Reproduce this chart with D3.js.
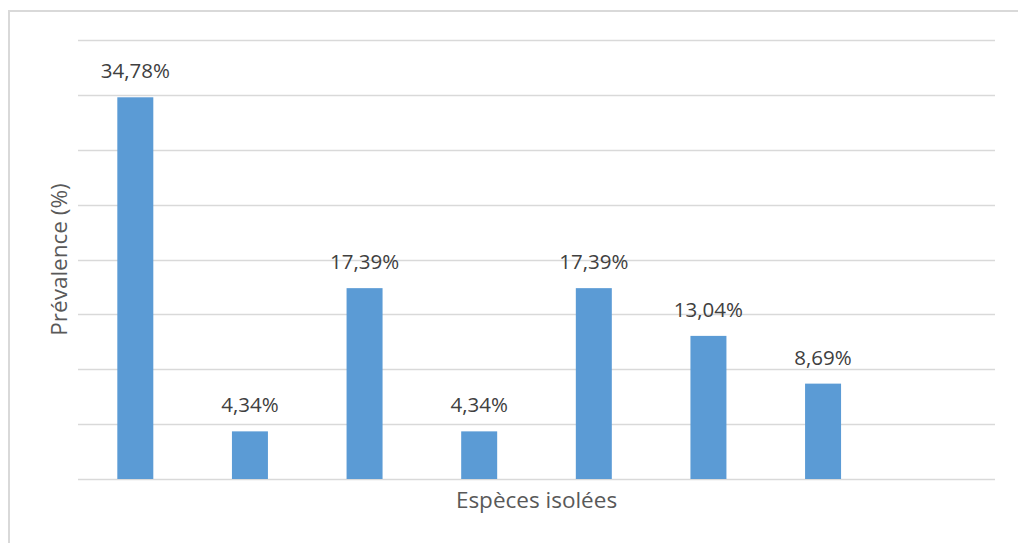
<!DOCTYPE html>
<html>
<head>
<meta charset="utf-8">
<script src="https://cdn.jsdelivr.net/npm/d3@7"></script>
<style>
  html, body { margin: 0; padding: 0; background: #ffffff; }
  svg { display: block; }
</style>
</head>
<body>
<svg id="chart" width="1018" height="543"></svg>
<script>
// Prevalence of isolated species (%); the eighth slot is left empty
const categories = ["A", "B", "C", "D", "E", "F", "G", "H"];
const values = [34.78, 4.34, 17.39, 4.34, 17.39, 13.04, 8.69, null];
const labels = ["34,78%", "4,34%", "17,39%", "4,34%", "17,39%", "13,04%", "8,69%", ""];
const yTicks = [0, 5, 10, 15, 20, 25, 30, 35, 40];

const svg = d3.select("#chart");
const W = 1018, H = 543;
const plot = { left: 78, right: 995, top: 40, bottom: 479 };
const font = "'Open Sans', 'Noto Sans', sans-serif";

// outer frame (top and left edges visible)
svg.append("path")
  .attr("d", `M9,${H} V11 H${W}`)
  .attr("fill", "none")
  .attr("stroke", "#d9d9d9")
  .attr("stroke-width", 2);

const gap = 0.686;
const x = d3.scaleBand()
  .domain(categories)
  .range([plot.left, plot.right])
  .paddingInner(gap)
  .paddingOuter(gap / 2);

const y = d3.scaleLinear()
  .domain([0, 40])
  .range([plot.bottom, plot.top]);

// horizontal gridlines
svg.append("g")
  .selectAll("line")
  .data(yTicks)
  .join("line")
  .attr("x1", plot.left)
  .attr("x2", plot.right)
  .attr("y1", d => Math.round(y(d)) + 0.5)
  .attr("y2", d => Math.round(y(d)) + 0.5)
  .attr("stroke", "#d9d9d9")
  .attr("stroke-width", 1.5);

const data = categories.map((c, i) => ({ c, v: values[i], label: labels[i] }))
  .filter(d => d.v != null);

// bars
svg.append("g")
  .selectAll("rect")
  .data(data)
  .join("rect")
  .attr("x", d => x(d.c))
  .attr("width", x.bandwidth())
  .attr("y", d => y(d.v))
  .attr("height", d => y(0) - y(d.v))
  .attr("fill", "#5b9bd5");

// value labels
svg.append("g")
  .selectAll("text")
  .data(data)
  .join("text")
  .attr("x", d => x(d.c) + x.bandwidth() / 2)
  .attr("y", d => y(d.v) - 19)
  .attr("text-anchor", "middle")
  .attr("font-family", font)
  .attr("font-size", 20.5)
  .attr("fill", "#404040")
  .text(d => d.label);

// x axis title
svg.append("text")
  .attr("x", (plot.left + plot.right) / 2)
  .attr("y", 508)
  .attr("text-anchor", "middle")
  .attr("font-family", font)
  .attr("font-size", 22.5)
  .attr("fill", "#595959")
  .text("Espèces isolées");

// y axis title
svg.append("text")
  .attr("transform", `translate(67, ${(plot.top + plot.bottom) / 2}) rotate(-90)`)
  .attr("text-anchor", "middle")
  .attr("font-family", font)
  .attr("font-size", 22.5)
  .attr("fill", "#595959")
  .text("Prévalence (%)");
</script>
</body>
</html>
